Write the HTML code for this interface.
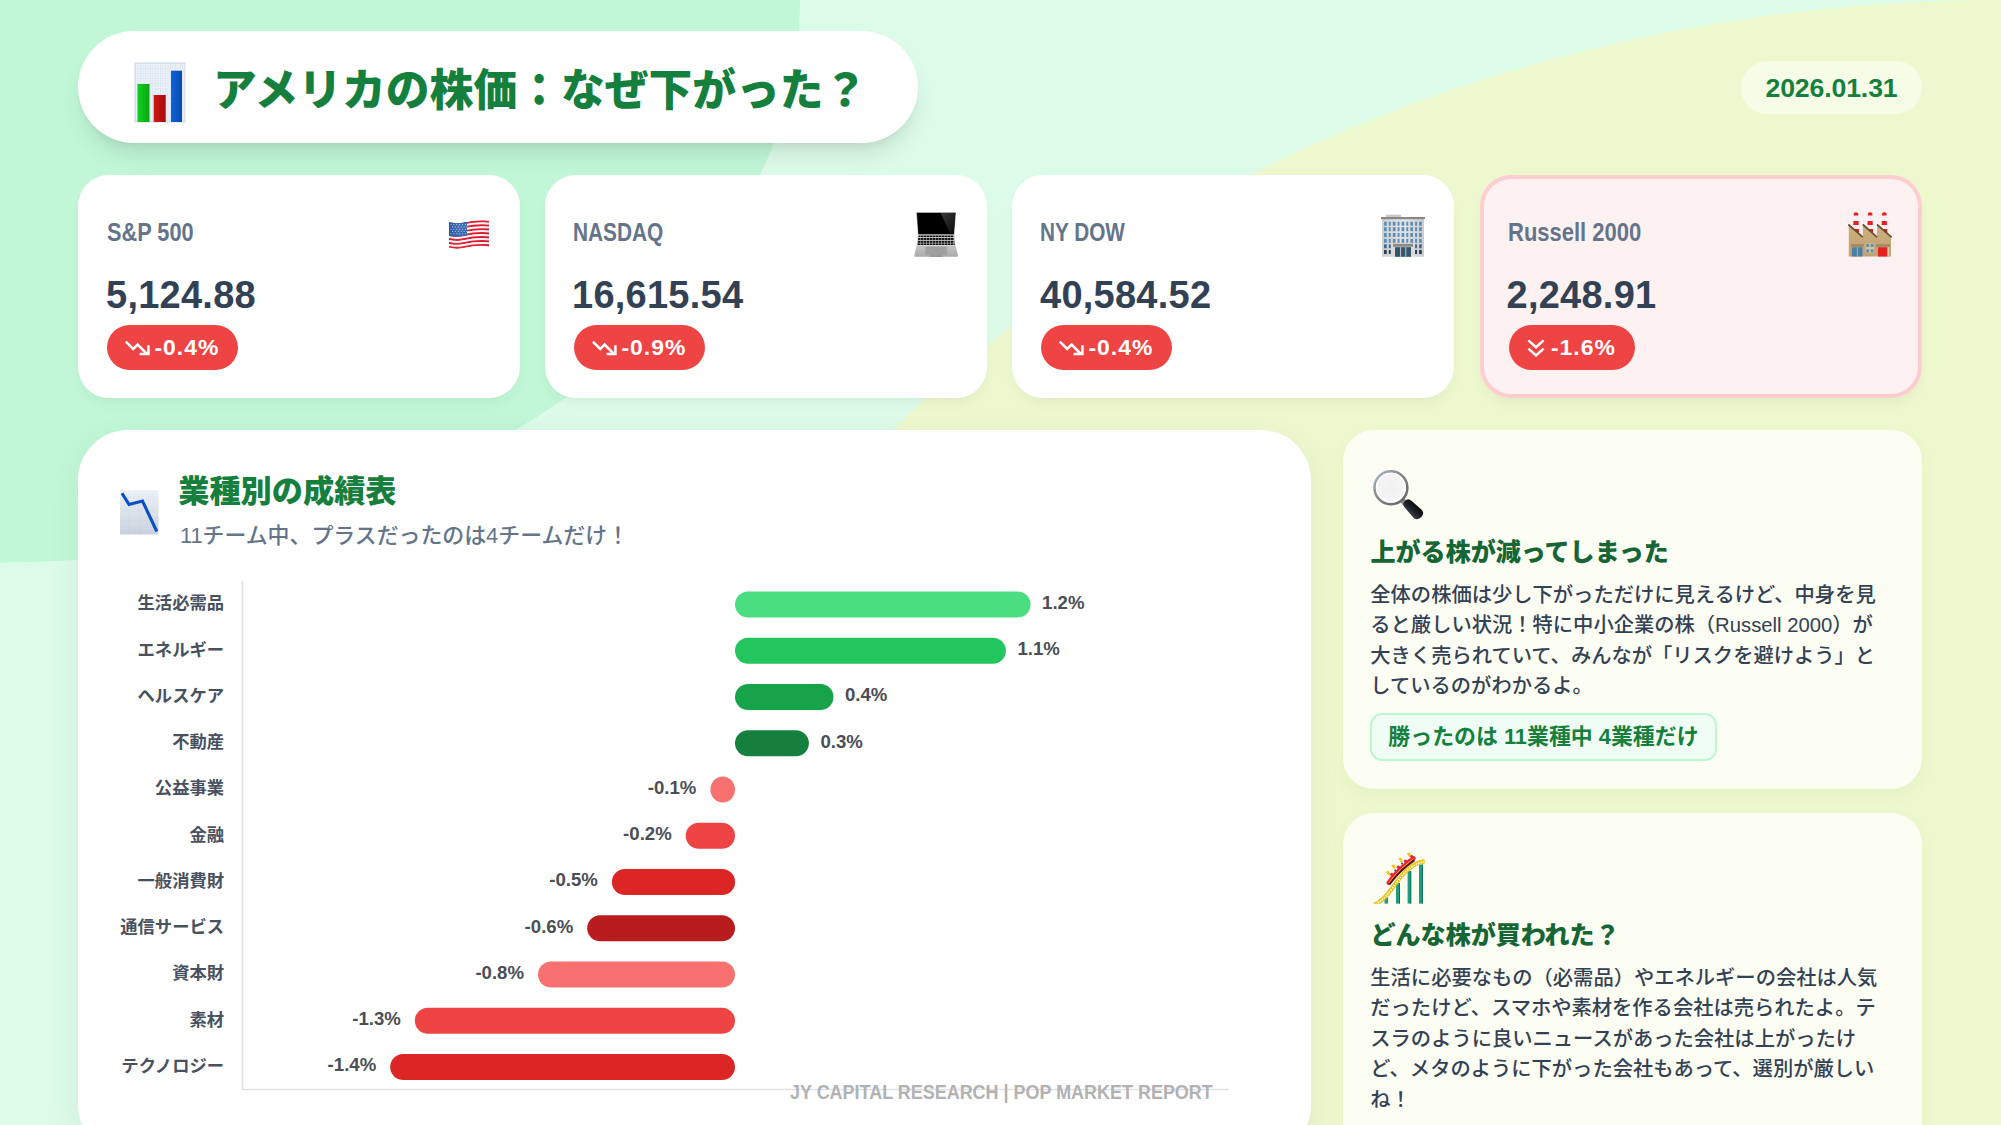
<!DOCTYPE html>
<html lang="ja">
<head>
<meta charset="utf-8">
<title>アメリカの株価：なぜ下がった？</title>
<style>
*{box-sizing:border-box;margin:0;padding:0}
html,body{width:2001px;height:1125px;overflow:hidden}
body{position:relative;background:#dcfbe7;font-family:"Liberation Sans","Noto Sans CJK JP",sans-serif;color:#334155;-webkit-font-smoothing:antialiased}
.jp{font-family:"Liberation Sans","Noto Sans CJK JP",sans-serif}
.abs{position:absolute}
#bg{position:absolute;left:0;top:0;width:2001px;height:1125px}
/* header */
#title{position:absolute;left:78px;top:31.3px;width:840px;height:111.8px;border-radius:56px;background:#fff;box-shadow:0 15.6px 23.4px -4.7px rgba(0,0,0,.1),0 6.25px 9.4px -6.25px rgba(0,0,0,.1)}
#title h1{position:absolute;left:135px;top:24.7px;font-size:43.77px;line-height:70px;font-weight:900;color:#15803d;white-space:nowrap;letter-spacing:0}
#date{position:absolute;left:1741px;top:61px;width:181px;height:53px;border-radius:27px;background:rgba(255,255,255,.5);color:#15803d;font-weight:700;font-size:26.7px;letter-spacing:-.15px;line-height:55px;text-align:center}
/* index cards */
.card{position:absolute;top:175px;width:442px;height:223px;border-radius:31px;background:#fff;box-shadow:0 8px 14px -4px rgba(0,0,0,.06)}
.card .lbl{position:absolute;left:29px;top:39.5px;font-size:25.2px;line-height:34px;font-weight:700;color:#64748b;white-space:nowrap;transform:scaleX(.863);transform-origin:0 50%}
.card .val{position:absolute;left:28px;top:94.5px;font-size:38px;line-height:50px;font-weight:700;color:#334155;white-space:nowrap;letter-spacing:.25px}
.card .badge{position:absolute;left:28.5px;top:150px;width:131px;height:45px;border-radius:23px;background:#ef4444;color:#fff;font-weight:700;font-size:22.9px;letter-spacing:1px;line-height:45px;white-space:nowrap}
.card.hot .badge{width:126px}
.card.hot .badge svg{left:18px;top:14px}
.card.hot .badge span{padding-left:42.5px}
.card .badge svg{position:absolute;left:17px;top:15px}
.card .badge span{display:block;padding-left:48px}
.card .ico{position:absolute}
.card.hot{background:#fef1f1;box-shadow:inset 0 0 0 4px #fecdd0,0 8px 14px -4px rgba(0,0,0,.06)}

/* chart card */
#chart{position:absolute;left:78.2px;top:429.7px;width:1232.8px;height:725px;border-radius:50px;background:#fff;box-shadow:0 10px 34px rgba(0,40,20,.058)}
#chart h2{position:absolute;left:100px;top:40.5px;font-size:31.2px;line-height:44px;font-weight:900;color:#15803d;white-space:nowrap}
#chart .sub{position:absolute;left:101.7px;top:90px;font-size:21.9px;line-height:32px;font-weight:500;color:#64748b;white-space:nowrap}
#plot{position:absolute;left:0;top:0;width:2001px;height:1125px;pointer-events:none}
#plot text.cat{font-family:"Liberation Sans","Noto Sans CJK JP",sans-serif;font-weight:700;font-size:17.3px;fill:#485160;text-anchor:end}
#plot text.v{font-family:"Liberation Sans",sans-serif;font-weight:700;font-size:18.6px;fill:#4b4e55}
#plot text.n{text-anchor:end}
#foot{position:absolute;left:1px;top:1077.5px;width:2001px;text-align:center;font-size:20.7px;line-height:28px;font-weight:700;color:#b2b2b2;white-space:nowrap;transform:scaleX(.868);transform-origin:999.8px 50%}
/* side cards */
.side{position:absolute;left:1342.5px;width:579.5px;border-radius:31px;background:#fcfdf3;box-shadow:0 6px 16px rgba(77,124,15,.05)}
.side h3{position:absolute;left:28px;font-size:25.05px;line-height:36px;font-weight:900;color:#166534;white-space:nowrap}
.side p{position:absolute;left:27.8px;font-size:20.3px;line-height:30.5px;font-weight:500;color:#334155;white-space:nowrap}
.side .pill{position:absolute;left:27.8px;top:283px;width:346.3px;height:47.6px;border-radius:12px;border:2px solid #bbf7d0;background:#f0fdf4;color:#15803d;font-weight:700;font-size:21.9px;line-height:44px;text-align:center;white-space:nowrap}
</style>
</head>
<body>
<svg id="bg" viewBox="0 0 2001 1125">
  <rect width="2001" height="1125" fill="#dcfbe8"/>
  <ellipse cx="0" cy="0" rx="800" ry="562.5" fill="#c1f7d7"/>
  <ellipse cx="2000" cy="1203.6" rx="1445.5" ry="1203.6" fill="#eef8ce"/>
</svg>

<div id="title"><h1>アメリカの株価：なぜ下がった？</h1></div>
<div id="date">2026.01.31</div>

<div class="card" style="left:78px"><div class="lbl">S&amp;P 500</div><div class="val">5,124.88</div><div class="badge"><svg width="26" height="16" viewBox="0 0 26 16"><path d="M1.8 1.6L9.2 9L13.6 4.6L23 14" fill="none" stroke="#fff" stroke-width="2.5" stroke-linejoin="miter"/><path d="M15.6 14.1H24.4V5.3" fill="none" stroke="#fff" stroke-width="2.5"/></svg><span>-0.4%</span></div></div>
<div class="card" style="left:545px"><div class="lbl" style="transform:scaleX(.826);margin-left:-1.2px">NASDAQ</div><div class="val" style="margin-left:-1px">16,615.54</div><div class="badge"><svg width="26" height="16" viewBox="0 0 26 16"><path d="M1.8 1.6L9.2 9L13.6 4.6L23 14" fill="none" stroke="#fff" stroke-width="2.5" stroke-linejoin="miter"/><path d="M15.6 14.1H24.4V5.3" fill="none" stroke="#fff" stroke-width="2.5"/></svg><span>-0.9%</span></div></div>
<div class="card" style="left:1012px"><div class="lbl" style="transform:scaleX(.824);margin-left:-.8px">NY DOW</div><div class="val">40,584.52</div><div class="badge"><svg width="26" height="16" viewBox="0 0 26 16"><path d="M1.8 1.6L9.2 9L13.6 4.6L23 14" fill="none" stroke="#fff" stroke-width="2.5" stroke-linejoin="miter"/><path d="M15.6 14.1H24.4V5.3" fill="none" stroke="#fff" stroke-width="2.5"/></svg><span>-0.4%</span></div></div>
<div class="card hot" style="left:1480px"><div class="lbl" style="transform:scaleX(.873);margin-left:-1.3px">Russell 2000</div><div class="val" style="margin-left:-1.5px">2,248.91</div><div class="badge"><svg width="18" height="18" viewBox="0 0 18 18"><path d="M1.4 1.4L9 8.2L16.6 1.4M1.4 9.6L9 16.4L16.6 9.6" fill="none" stroke="#fff" stroke-width="2.5"/></svg><span>-1.6%</span></div></div>

<div id="chart">
  <h2>業種別の成績表</h2>
  <div class="sub">11チーム中、プラスだったのは4チームだけ！</div>
</div>
<svg id="plot" viewBox="0 0 2001 1125">
<path d="M242.5 581V1089.5H1228.5" fill="none" stroke="#dfe1e5" stroke-width="1.6"/>
<rect x="735.0" y="591.50" width="295.6" height="26" rx="13" fill="#4ade80"/>
<text class="v" x="1042.1" y="608.80">1.2%</text>
<text class="cat" x="224" y="609.30">生活必需品</text>
<rect x="735.0" y="637.75" width="270.9" height="26" rx="13" fill="#22c55e"/>
<text class="v" x="1017.4" y="655.05">1.1%</text>
<text class="cat" x="224" y="655.55">エネルギー</text>
<rect x="735.0" y="684.00" width="98.5" height="26" rx="13" fill="#16a34a"/>
<text class="v" x="845.0" y="701.30">0.4%</text>
<text class="cat" x="224" y="701.80">ヘルスケア</text>
<rect x="735.0" y="730.25" width="73.9" height="26" rx="13" fill="#15803d"/>
<text class="v" x="820.4" y="747.55">0.3%</text>
<text class="cat" x="224" y="748.05">不動産</text>
<rect x="710.4" y="776.50" width="24.6" height="26" rx="13" fill="#f87171"/>
<text class="v n" x="696.4" y="793.80">-0.1%</text>
<text class="cat" x="224" y="794.30">公益事業</text>
<rect x="685.7" y="822.75" width="49.3" height="26" rx="13" fill="#ef4444"/>
<text class="v n" x="671.7" y="840.05">-0.2%</text>
<text class="cat" x="224" y="840.55">金融</text>
<rect x="611.9" y="869.00" width="123.2" height="26" rx="13" fill="#dc2626"/>
<text class="v n" x="597.9" y="886.30">-0.5%</text>
<text class="cat" x="224" y="886.80">一般消費財</text>
<rect x="587.2" y="915.25" width="147.8" height="26" rx="13" fill="#b91c1c"/>
<text class="v n" x="573.2" y="932.55">-0.6%</text>
<text class="cat" x="224" y="933.05">通信サービス</text>
<rect x="538.0" y="961.50" width="197.0" height="26" rx="13" fill="#f87171"/>
<text class="v n" x="524.0" y="978.80">-0.8%</text>
<text class="cat" x="224" y="979.30">資本財</text>
<rect x="414.8" y="1007.75" width="320.2" height="26" rx="13" fill="#ef4444"/>
<text class="v n" x="400.8" y="1025.05">-1.3%</text>
<text class="cat" x="224" y="1025.55">素材</text>
<rect x="390.2" y="1054.00" width="344.8" height="26" rx="13" fill="#dc2626"/>
<text class="v n" x="376.2" y="1071.30">-1.4%</text>
<text class="cat" x="224" y="1071.80">テクノロジー</text>
</svg>
<div id="foot">JY CAPITAL RESEARCH | POP MARKET REPORT</div>

<div class="side" style="top:430px;height:359px">
  <h3 style="top:104px">上がる株が減ってしまった</h3>
  <p style="top:149.6px">全体の株価は少し下がっただけに見えるけど、中身を見<br>ると厳しい状況！特に中小企業の株（Russell 2000）が<br>大きく売られていて、みんなが「リスクを避けよう」と<br>しているのがわかるよ。</p>
  <div class="pill">勝ったのは 11業種中 4業種だけ</div>
</div>
<div class="side" style="top:813px;height:342px">
  <h3 style="top:104px">どんな株が買われた？</h3>
  <p style="top:149.6px">生活に必要なもの（必需品）やエネルギーの会社は人気<br>だったけど、スマホや素材を作る会社は売られたよ。テ<br>スラのように良いニュースがあった会社は上がったけ<br>ど、メタのように下がった会社もあって、選別が厳しい<br>ね！</p>
</div>

<svg class="abs" style="left:130px;top:58px" width="60" height="70" viewBox="0 0 60 70">
<defs>
<pattern id="gr1" width="2.5" height="2.5" patternUnits="userSpaceOnUse"><rect width="2.5" height="2.5" fill="#eef3f9"/><path d="M0 0H2.5M0 0V2.5" stroke="#c5d6ea" stroke-width=".6"/></pattern>
<linearGradient id="gg" x1="0" x2="1"><stop offset="0" stop-color="#11d11c"/><stop offset="1" stop-color="#0aa514"/></linearGradient>
<linearGradient id="rg" x1="0" x2="1"><stop offset="0" stop-color="#d31515"/><stop offset="1" stop-color="#a90b0b"/></linearGradient>
<linearGradient id="bg2" x1="0" x2="1"><stop offset="0" stop-color="#0c63da"/><stop offset="1" stop-color="#084bb0"/></linearGradient>
</defs>
<rect x="5" y="5" width="50" height="59" fill="url(#gr1)"/>
<rect x="5" y="5" width="50" height="59" fill="none" stroke="#c9d3de" stroke-width=".8"/>
<rect x="7.5" y="26" width="12" height="38" fill="url(#gg)"/>
<rect x="23.7" y="37" width="12" height="27" fill="url(#rg)"/>
<rect x="41" y="12.7" width="11" height="51.3" fill="url(#bg2)"/>
</svg>
<svg class="abs" style="left:115px;top:485px" width="50" height="55" viewBox="0 0 50 55">
<defs><pattern id="gr2" width="2.2" height="2.2" patternUnits="userSpaceOnUse"><rect width="2.2" height="2.2" fill="#e9eef5"/><path d="M0 0H2.2M0 0V2.2" stroke="#c9d7e8" stroke-width=".55"/></pattern>
<linearGradient id="pg" x1="0" y1="0" x2="0" y2="1"><stop offset="0" stop-color="#fff" stop-opacity=".35"/><stop offset="1" stop-color="#9aa7b8" stop-opacity=".35"/></linearGradient></defs>
<rect x="5" y="5" width="38.5" height="44.5" fill="url(#gr2)"/>
<rect x="5" y="5" width="38.5" height="44.5" fill="url(#pg)"/>
<path d="M7 8.2L14 19.4L27.5 16L41.8 46.5" fill="none" stroke="#0b4fc4" stroke-width="3.1" stroke-linejoin="miter"/>
</svg>
<svg class="abs" style="left:430px;top:200px" width="80" height="70" viewBox="0 0 80 70">
<defs><clipPath id="fc"><path d="M19 22C24 23.2 28 23.6 33 22.6C41 21 49 19.6 59 20.8L59 46.4C49 44.9 41 46.5 33 48.1C28 49.1 24 48.8 19 47.6Z"/></clipPath>
<linearGradient id="fs" x1="0" x2="1"><stop offset="0" stop-color="#000" stop-opacity=".10"/><stop offset=".25" stop-color="#fff" stop-opacity=".08"/><stop offset=".7" stop-color="#fff" stop-opacity="0"/><stop offset="1" stop-color="#000" stop-opacity=".12"/></linearGradient></defs>
<g clip-path="url(#fc)">
<rect x="18" y="18" width="43" height="33" fill="#f8f8f8"/>
<path d="M19 23.00C24 24.20 28 24.59 33 23.59C41 21.98 49 20.58 59 21.79" fill="none" stroke="#e0162b" stroke-width="2.15"/><path d="M19 25.00C24 26.20 28 26.57 33 25.55C41 23.94 49 22.54 59 23.76" fill="none" stroke="#f8f8f8" stroke-width="2.15"/><path d="M19 27.00C24 28.20 28 28.55 33 27.53C41 25.90 49 24.50 59 25.73" fill="none" stroke="#e0162b" stroke-width="2.15"/><path d="M19 29.00C24 30.20 28 30.53 33 29.50C41 27.86 49 26.46 59 27.70" fill="none" stroke="#f8f8f8" stroke-width="2.15"/><path d="M19 31.00C24 32.20 28 32.51 33 31.47C41 29.82 49 28.42 59 29.66" fill="none" stroke="#e0162b" stroke-width="2.15"/><path d="M19 33.00C24 34.20 28 34.49 33 33.44C41 31.78 49 30.38 59 31.63" fill="none" stroke="#f8f8f8" stroke-width="2.15"/><path d="M19 35.00C24 36.20 28 36.47 33 35.41C41 33.74 49 32.34 59 33.61" fill="none" stroke="#e0162b" stroke-width="2.15"/><path d="M19 37.00C24 38.20 28 38.45 33 37.38C41 35.70 49 34.30 59 35.58" fill="none" stroke="#f8f8f8" stroke-width="2.15"/><path d="M19 39.00C24 40.20 28 40.43 33 39.34C41 37.66 49 36.26 59 37.55" fill="none" stroke="#e0162b" stroke-width="2.15"/><path d="M19 41.00C24 42.20 28 42.41 33 41.31C41 39.62 49 38.22 59 39.52" fill="none" stroke="#f8f8f8" stroke-width="2.15"/><path d="M19 43.00C24 44.20 28 44.39 33 43.28C41 41.58 49 40.18 59 41.48" fill="none" stroke="#e0162b" stroke-width="2.15"/><path d="M19 45.00C24 46.20 28 46.37 33 45.26C41 43.54 49 42.14 59 43.45" fill="none" stroke="#f8f8f8" stroke-width="2.15"/><path d="M19 47.00C24 48.20 28 48.35 33 47.23C41 45.50 49 44.10 59 45.42" fill="none" stroke="#e0162b" stroke-width="2.15"/>
<path d="M19 21C24 23.2 28 23.6 33 22.6L37 21.8V35.6C33 36.6 26 37.4 19 36Z" fill="#2b5fae"/>
<g fill="#fff" opacity=".85">
<circle cx="21.00" cy="24.60" r=".55"/><circle cx="23.90" cy="24.60" r=".55"/><circle cx="26.80" cy="24.60" r=".55"/><circle cx="29.70" cy="24.60" r=".55"/><circle cx="32.60" cy="24.60" r=".55"/><circle cx="35.50" cy="24.60" r=".55"/><circle cx="22.45" cy="26.90" r=".55"/><circle cx="25.35" cy="26.90" r=".55"/><circle cx="28.25" cy="26.90" r=".55"/><circle cx="31.15" cy="26.90" r=".55"/><circle cx="34.05" cy="26.90" r=".55"/><circle cx="36.95" cy="26.90" r=".55"/><circle cx="21.00" cy="29.20" r=".55"/><circle cx="23.90" cy="29.20" r=".55"/><circle cx="26.80" cy="29.20" r=".55"/><circle cx="29.70" cy="29.20" r=".55"/><circle cx="32.60" cy="29.20" r=".55"/><circle cx="35.50" cy="29.20" r=".55"/><circle cx="22.45" cy="31.50" r=".55"/><circle cx="25.35" cy="31.50" r=".55"/><circle cx="28.25" cy="31.50" r=".55"/><circle cx="31.15" cy="31.50" r=".55"/><circle cx="34.05" cy="31.50" r=".55"/><circle cx="36.95" cy="31.50" r=".55"/><circle cx="21.00" cy="33.80" r=".55"/><circle cx="23.90" cy="33.80" r=".55"/><circle cx="26.80" cy="33.80" r=".55"/><circle cx="29.70" cy="33.80" r=".55"/><circle cx="32.60" cy="33.80" r=".55"/><circle cx="35.50" cy="33.80" r=".55"/>
</g>
<rect x="18" y="18" width="43" height="33" fill="url(#fs)"/>
</g>
</svg>
<svg class="abs" style="left:900px;top:200px" width="80" height="70" viewBox="0 0 80 70">
<defs><linearGradient id="lb" x1="0" y1="0" x2="0" y2="1"><stop offset="0" stop-color="#c4c4c4"/><stop offset="1" stop-color="#a9a9a9"/></linearGradient>
<linearGradient id="ls" x1="0" y1="0" x2="1" y2="1"><stop offset="0" stop-color="#4a4a4a"/><stop offset="1" stop-color="#0a0a0a"/></linearGradient></defs>
<path d="M16.3 12.3H56L54.3 34.6H17.9Z" fill="#8d8d8d"/>
<path d="M17 13H55.3L53.7 34.4H18.5Z" fill="#000"/>
<path d="M40.8 13H55.3L53.7 34.4H50.5Z" fill="url(#ls)" opacity=".8"/>
<path d="M17.6 34.6H54.6L55.6 45.6H16.6Z" fill="#d2d2d2"/>
<g fill="#151515"><rect x="18.6" y="35.5" width="35" height="1.6"/><rect x="18.2" y="38" width="35.8" height="2"/><rect x="17.9" y="40.8" width="36.4" height="2"/><rect x="17.5" y="43.4" width="37.2" height="1.6"/></g>
<g stroke="#c4c4c4" stroke-width=".5"><path d="M20.5 35.2V45.3"/><path d="M23.5 35.2V45.3"/><path d="M26.5 35.2V45.3"/><path d="M29.5 35.2V45.3"/><path d="M32.5 35.2V45.3"/><path d="M35.5 35.2V45.3"/><path d="M38.5 35.2V45.3"/><path d="M41.5 35.2V45.3"/><path d="M44.5 35.2V45.3"/><path d="M47.5 35.2V45.3"/><path d="M50.5 35.2V45.3"/><path d="M53.5 35.2V45.3"/></g>
<path d="M16.6 45.6H55.6L58 55.2C58 56.2 57.6 56.7 56.8 56.7H15.4C14.6 56.7 14.2 56.2 14.3 55.2Z" fill="url(#lb)"/>
<rect x="25.3" y="46.6" width="21.6" height="8.3" fill="#9f9f9f"/>
<rect x="30" y="55.4" width="12.5" height="1.4" fill="#8f8f8f"/>
</svg>
<svg class="abs" style="left:1365px;top:200px" width="80" height="70" viewBox="0 0 80 70">
<defs><linearGradient id="bd" x1="0" x2="1"><stop offset="0" stop-color="#cfcfcf"/><stop offset=".5" stop-color="#e6e6e6"/><stop offset="1" stop-color="#cdcdcd"/></linearGradient></defs>
<rect x="21" y="14.7" width="15" height="2.6" fill="#c8c8c8"/>
<rect x="17" y="19" width="42" height="37.8" fill="url(#bd)"/>
<rect x="16" y="17" width="44" height="2.2" fill="#8c8783"/>
<rect x="19.05" y="21.7" width="2.7" height="4" fill="#5b8fb8"/><rect x="23.78" y="21.7" width="2.0" height="4" fill="#5b8fb8"/><rect x="27.81" y="21.7" width="2.7" height="4" fill="#5b8fb8"/><rect x="32.54" y="21.7" width="2.0" height="4" fill="#5b8fb8"/><rect x="36.57" y="21.7" width="2.7" height="4" fill="#5b8fb8"/><rect x="41.30" y="21.7" width="2.0" height="4" fill="#5b8fb8"/><rect x="45.33" y="21.7" width="2.7" height="4" fill="#5b8fb8"/><rect x="50.06" y="21.7" width="2.0" height="4" fill="#5b8fb8"/><rect x="54.09" y="21.7" width="2.7" height="4" fill="#5b8fb8"/><rect x="19.05" y="27.2" width="2.7" height="4" fill="#5b8fb8"/><rect x="23.78" y="27.2" width="2.0" height="4" fill="#5b8fb8"/><rect x="27.81" y="27.2" width="2.7" height="4" fill="#5b8fb8"/><rect x="32.54" y="27.2" width="2.0" height="4" fill="#5b8fb8"/><rect x="36.57" y="27.2" width="2.7" height="4" fill="#5b8fb8"/><rect x="41.30" y="27.2" width="2.0" height="4" fill="#5b8fb8"/><rect x="45.33" y="27.2" width="2.7" height="4" fill="#5b8fb8"/><rect x="50.06" y="27.2" width="2.0" height="4" fill="#5b8fb8"/><rect x="54.09" y="27.2" width="2.7" height="4" fill="#5b8fb8"/><rect x="19.05" y="33" width="2.7" height="4" fill="#5b8fb8"/><rect x="23.78" y="33" width="2.0" height="4" fill="#5b8fb8"/><rect x="27.81" y="33" width="2.7" height="4" fill="#5b8fb8"/><rect x="32.54" y="33" width="2.0" height="4" fill="#5b8fb8"/><rect x="36.57" y="33" width="2.7" height="4" fill="#5b8fb8"/><rect x="41.30" y="33" width="2.0" height="4" fill="#5b8fb8"/><rect x="45.33" y="33" width="2.7" height="4" fill="#5b8fb8"/><rect x="50.06" y="33" width="2.0" height="4" fill="#5b8fb8"/><rect x="54.09" y="33" width="2.7" height="4" fill="#5b8fb8"/><rect x="19.05" y="38.8" width="2.7" height="4" fill="#5b8fb8"/><rect x="23.78" y="38.8" width="2.0" height="4" fill="#5b8fb8"/><rect x="27.81" y="38.8" width="2.7" height="4" fill="#5b8fb8"/><rect x="32.54" y="38.8" width="2.0" height="4" fill="#5b8fb8"/><rect x="36.57" y="38.8" width="2.7" height="4" fill="#5b8fb8"/><rect x="41.30" y="38.8" width="2.0" height="4" fill="#5b8fb8"/><rect x="45.33" y="38.8" width="2.7" height="4" fill="#5b8fb8"/><rect x="50.06" y="38.8" width="2.0" height="4" fill="#5b8fb8"/><rect x="54.09" y="38.8" width="2.7" height="4" fill="#5b8fb8"/><rect x="19.05" y="44.3" width="2.7" height="4" fill="#41698a"/><rect x="23.78" y="44.3" width="2.0" height="4" fill="#41698a"/><rect x="50.06" y="44.3" width="2.0" height="4" fill="#41698a"/><rect x="54.09" y="44.3" width="2.7" height="4" fill="#41698a"/><rect x="19.05" y="50" width="2.7" height="4" fill="#233d52"/><rect x="23.78" y="50" width="2.0" height="4" fill="#233d52"/><rect x="50.06" y="50" width="2.0" height="4" fill="#233d52"/><rect x="54.09" y="50" width="2.7" height="4" fill="#233d52"/>
<rect x="28" y="43.8" width="20" height="3" fill="#8f8a86"/>
<rect x="30" y="47.2" width="16" height="9.6" fill="#35566b"/>
<path d="M35.6 47.2V56.8M40.8 47.2V56.8" stroke="#d5d5d5" stroke-width=".9"/>
</svg>
<svg class="abs" style="left:1832px;top:200px" width="80" height="70" viewBox="0 0 80 70">
<defs><linearGradient id="fb" x1="0" y1="0" x2="0" y2="1"><stop offset="0" stop-color="#d0b080"/><stop offset="1" stop-color="#bfa072"/></linearGradient></defs>
<path d="M21.8 13.2Q24 11.2 26.2 13.2L27 33H21Z" fill="#f3f3f7"/>
<path d="M21.8 13.2Q24 11.2 26.2 13.2L26.3 15.6H21.7Z" fill="#ee1c1c"/>
<path d="M21.5 21H26.5L26.7 25H21.3Z" fill="#ee1c1c"/>
<path d="M21.15 29H26.85L27 33H21Z" fill="#d91a1a"/><path d="M35.9 13.2Q38.1 11.2 40.300000000000004 13.2L41.1 33H35.1Z" fill="#f3f3f7"/>
<path d="M35.9 13.2Q38.1 11.2 40.300000000000004 13.2L40.4 15.6H35.800000000000004Z" fill="#ee1c1c"/>
<path d="M35.6 21H40.6L40.800000000000004 25H35.4Z" fill="#ee1c1c"/>
<path d="M35.25 29H40.95L41.1 33H35.1Z" fill="#d91a1a"/><path d="M50.099999999999994 13.2Q52.3 11.2 54.5 13.2L55.3 33H49.3Z" fill="#f3f3f7"/>
<path d="M50.099999999999994 13.2Q52.3 11.2 54.5 13.2L54.599999999999994 15.6H50.0Z" fill="#ee1c1c"/>
<path d="M49.8 21H54.8L55.0 25H49.599999999999994Z" fill="#ee1c1c"/>
<path d="M49.449999999999996 29H55.15L55.3 33H49.3Z" fill="#d91a1a"/>
<path d="M16.8 24.5L30.8 37V24.5L45 37V24.5L59 37V56.5H16.8Z" fill="url(#fb)"/>
<path d="M16.3 24.5L30.8 37.2M30.8 24.5L45 37.2M45 24.5L59.7 37.4" stroke="#6a4e2e" stroke-width="1.7" fill="none"/>
<rect x="19" y="44.2" width="13" height="2.6" fill="#a18a62"/>
<rect x="20" y="47.3" width="10.5" height="9.2" fill="#4b80a6"/>
<path d="M25.4 47.3V56.5" stroke="#d6c6a6" stroke-width=".7"/>
<rect x="33.7" y="43.2" width="8.3" height="10" fill="#d6c29b"/>
<g fill="#5b8fb4"><rect x="34.3" y="43.8" width="2.8" height="3.2"/><rect x="38.7" y="43.8" width="2.7" height="3.2"/><rect x="34.3" y="49.3" width="2.8" height="3.3"/><rect x="38.7" y="49.3" width="2.7" height="3.3"/></g>
<rect x="44" y="44.2" width="14" height="2.6" fill="#a18a62"/>
<rect x="46" y="47.3" width="9.5" height="9.2" fill="#e32222"/>
<rect x="55.5" y="47.3" width="1.5" height="9.2" fill="#d9cdb2"/>
</svg>
<svg class="abs" style="left:1355px;top:455px" width="90" height="80" viewBox="0 0 90 80">
<defs><radialGradient id="mg" cx=".5" cy=".45" r=".55"><stop offset="0" stop-color="#f1f1f1"/><stop offset=".8" stop-color="#f5f5f5"/><stop offset="1" stop-color="#ffffff"/></radialGradient>
<linearGradient id="mh" x1="0" y1="0" x2="1" y2="0"><stop offset="0" stop-color="#3c4047"/><stop offset=".45" stop-color="#1d2024"/><stop offset="1" stop-color="#0b0c0e"/></linearGradient>
<linearGradient id="mr" x1="0" y1="0" x2="1" y2="1"><stop offset="0" stop-color="#a9bddb"/><stop offset=".35" stop-color="#8d8f92"/><stop offset="1" stop-color="#5f5f5f"/></linearGradient></defs>
<path d="M45.5 43.5L51 49" stroke="#8d8d8d" stroke-width="5.5"/>
<g transform="rotate(-45 57.9 54)"><path d="M53.1 47.2Q53.1 42.6 57.9 42.6Q62.7 42.6 62.7 47.2L63.6 60.6Q63.6 65.6 57.9 65.6Q52.2 65.6 52.2 60.6Z" fill="url(#mh)"/></g>
<circle cx="35.9" cy="32.7" r="16.4" fill="url(#mg)" stroke="url(#mr)" stroke-width="2.6"/>
<circle cx="35.9" cy="32.7" r="14.3" fill="none" stroke="#fff" stroke-width="1.5" opacity=".9"/>
</svg>
<svg class="abs" style="left:1355px;top:840px" width="90" height="80" viewBox="0 0 90 80">
<defs><clipPath id="gc"><rect x="0" y="0" width="90" height="63.8"/></clipPath></defs>
<g clip-path="url(#gc)">
<g fill="#219c7f"><rect x="64" y="24.5" width="4" height="39.3"/><rect x="52.6" y="31" width="3.6" height="32.8"/><rect x="41" y="43" width="4" height="20.8"/><rect x="29.5" y="57.5" width="3.5" height="6.3"/></g>
<g fill="#15705b"><rect x="67" y="24.5" width="1" height="39.3"/><rect x="55.3" y="31" width=".9" height="32.8"/><rect x="44" y="43" width="1" height="20.8"/></g>
<path d="M19 65C27 61.6 32 55.5 36.8 48.7C42.6 40.2 48.5 32.2 56.3 26.7C60.7 23.5 65 21.8 69.6 21.3" fill="none" stroke="#e7c01a" stroke-width="4.2"/>
<path d="M22.5 62.8C28.6 59.6 32.8 54.6 37.3 48.2C43 40 49 32.2 56.6 26.9C60.8 24 65 22.4 69 21.8" fill="none" stroke="#fffbe0" stroke-width="1.7" stroke-dasharray="1.5 1.1"/>
<g transform="translate(.5 1.2)">
<path d="M33.2 41.5C38 35 44 28 50 23.5C53 21 55.5 19 58 17.2" fill="none" stroke="#e8203a" stroke-width="4.4" stroke-linecap="round" stroke-dasharray="6.2 2.2"/>
<path d="M33.2 41.5C38 35 44 28 50 23.5C53 21 55.5 19 58 17.2" fill="none" stroke="#e8203a" stroke-width="3" stroke-linecap="round"/>
<path d="M33.9 43.4C38.9 36.7 44.9 29.7 51.2 25C53.9 22.8 56.4 20.8 59 19" fill="none" stroke="#4a0c16" stroke-width="1.7"/>
<path d="M33.4 41.6C38.2 35 44.2 28.2 50.3 23.6C53 21.3 55.6 19.2 58.2 17.4" fill="none" stroke="#ffc400" stroke-width=".9"/>
<g fill="#f5c518"><path d="M30.3 30.5l2.6 4 1.7-1.1-1.3-3.9zM35.8 24l2.6 4 1.7-1.1-1.3-3.9zM42.8 17.2l2.6 4 1.7-1.1-1.3-3.9zM51.3 12l2.6 4 1.7-1.1-1.3-3.9z"/></g>
<g fill="#2d4f86"><circle cx="39.7" cy="29.2" r="1"/><circle cx="46.5" cy="22.3" r="1"/></g>
<g fill="#e8203a"><circle cx="36.2" cy="33.2" r="1.6"/><circle cx="42.8" cy="26" r="1.6"/><circle cx="50" cy="20" r="1.6"/><circle cx="56.2" cy="15.4" r="1.6"/></g>
</g>
</g>
</svg>
</body>
</html>
